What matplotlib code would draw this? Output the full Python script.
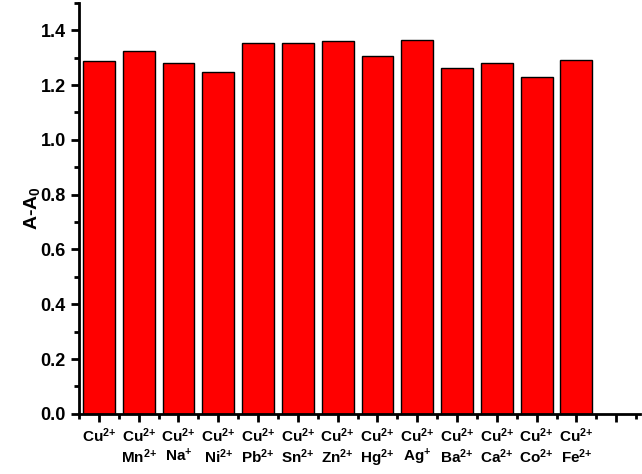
import matplotlib
matplotlib.use("Agg")
import matplotlib.pyplot as plt
from matplotlib.ticker import MultipleLocator

plt.rcParams["font.family"] = ["Liberation Sans", "DejaVu Sans"]
plt.rcParams["font.weight"] = "bold"
plt.rcParams["mathtext.fontset"] = "custom"
plt.rcParams["mathtext.rm"] = "Liberation Sans:bold"
plt.rcParams["mathtext.it"] = "Liberation Sans:bold"
plt.rcParams["mathtext.bf"] = "Liberation Sans:bold"

ions = ["", "Mn$^{2{+}}$", "Na$^{{+}}$", "Ni$^{2{+}}$", "Pb$^{2{+}}$", "Sn$^{2{+}}$", "Zn$^{2{+}}$",
        "Hg$^{2{+}}$", "Ag$^{{+}}$", "Ba$^{2{+}}$", "Ca$^{2{+}}$", "Co$^{2{+}}$", "Fe$^{2{+}}$"]
values = [1.287, 1.324, 1.279, 1.248, 1.352, 1.355, 1.359,
          1.306, 1.366, 1.264, 1.280, 1.230, 1.291]

labels = ["Cu$^{2{+}}$" + ("\n" + s if s else "") for s in ions]
pos = list(range(1, len(values) + 1))

fig = plt.figure(figsize=(6.42, 4.74), dpi=100)
ax = fig.add_axes([0.123, 0.127, 0.874, 0.867])
ax.bar(pos, values, width=0.8, color="#ff0000", edgecolor="black", linewidth=1.0)

ax.set_xlim(0.55, 14.6)
ax.set_ylim(0, 1.5)
ax.set_xticks(pos + [14])
ax.set_xticklabels(labels + [""], fontsize=11, fontweight="bold", va="top", linespacing=1.15)
ax.set_xticks([p + 0.5 for p in range(0, 15)], minor=True)
ax.yaxis.set_minor_locator(MultipleLocator(0.1))
ax.set_yticks([0, 0.2, 0.4, 0.6, 0.8, 1.0, 1.2, 1.4])
ax.set_yticklabels([f"{v:.1f}" for v in ax.get_yticks()], fontsize=13, fontweight="bold")
ax.set_ylabel("A-A$_0$", fontsize=14, fontweight="bold", labelpad=-1)

for s in ["top", "right"]:
    ax.spines[s].set_visible(False)
for s in ["left", "bottom"]:
    ax.spines[s].set_linewidth(2)
ax.tick_params(which="major", direction="out", length=6, width=2)
ax.tick_params(which="minor", direction="out", length=3.5, width=2)
ax.tick_params(axis="x", which="major", pad=3)

fig.savefig("out.png", dpi=100)
